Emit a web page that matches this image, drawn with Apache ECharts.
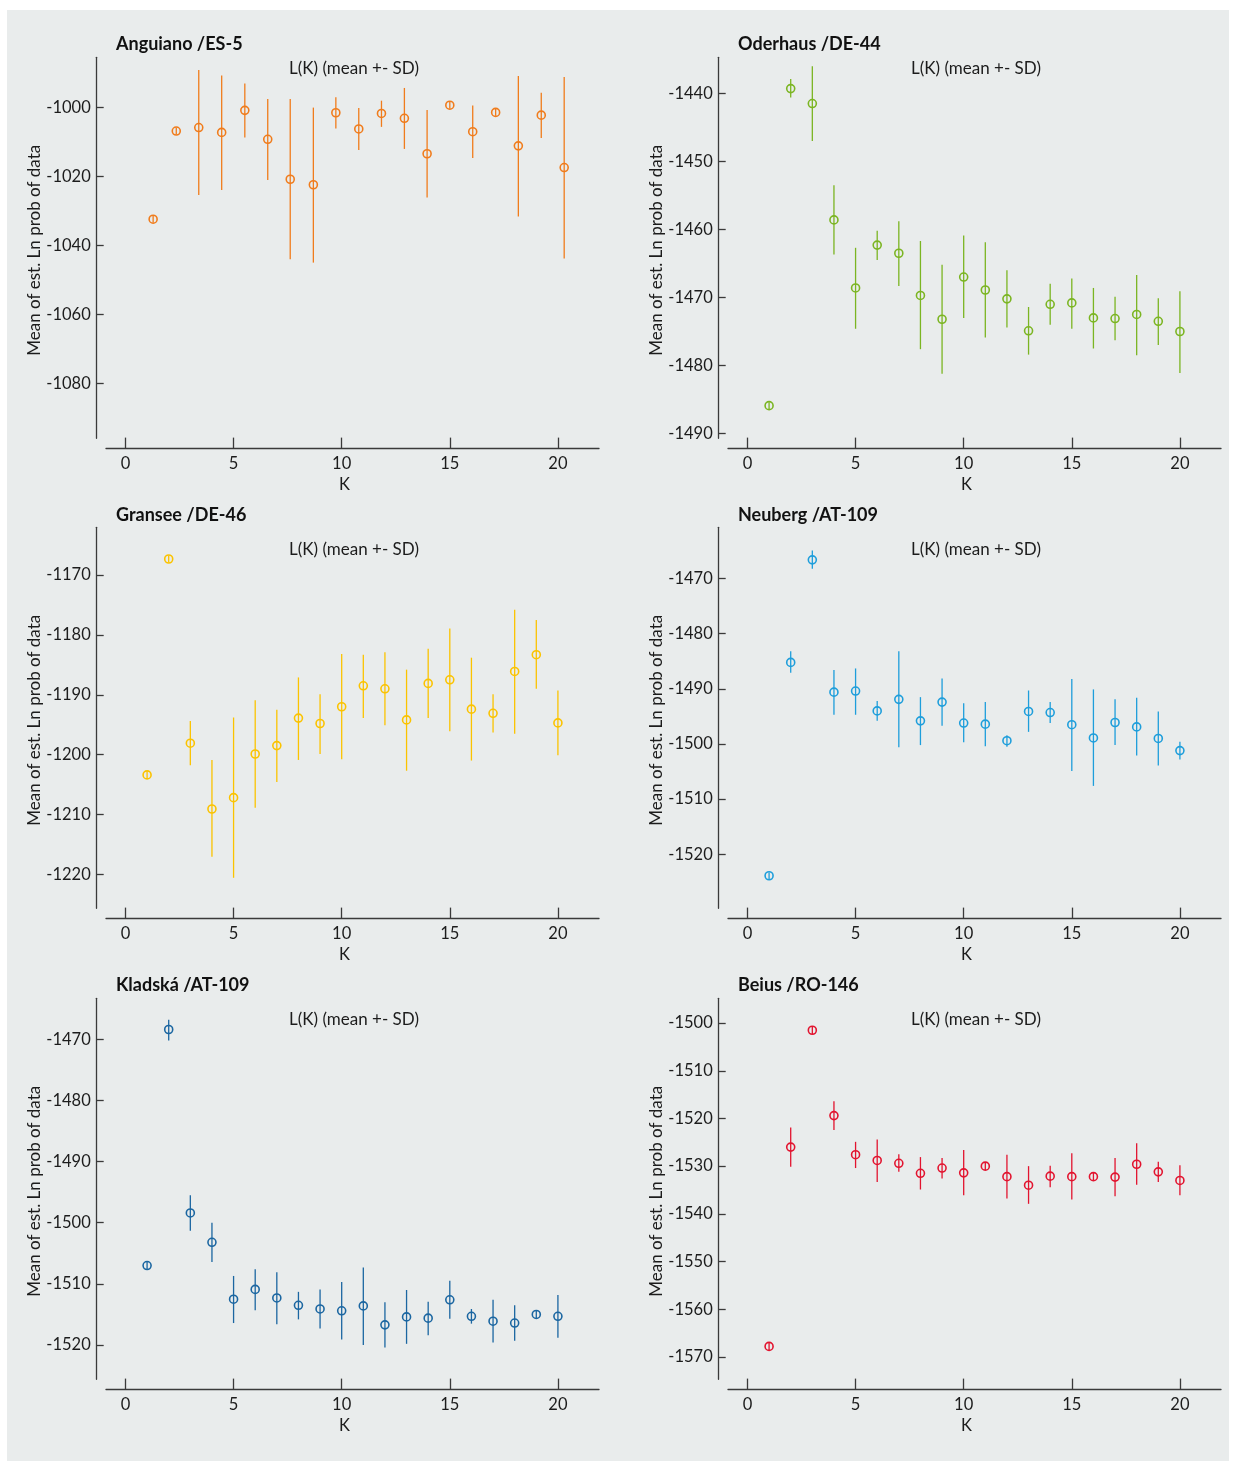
<!DOCTYPE html>
<html>
<head>
<meta charset="utf-8">
<title>L(K) (mean +- SD)</title>
<script src="https://cdn.jsdelivr.net/npm/echarts@6/dist/echarts.min.js"></script>
<style>
  html, body { margin: 0; padding: 0; background: #fff; }
  #chart { width: 1236px; height: 1461px; }
</style>
</head>
<body>
<div id="chart"></div>
<script>
// K values (x) and tick labels
const kValues = [1, 2, 3, 4, 5, 6, 7, 8, 9, 10, 11, 12, 13, 14, 15, 16, 17, 18, 19, 20]
const kTicks = [0, 5, 10, 15, 20]

// Anguiano /ES-5 (points sit slightly right of the integer ticks in the source)
const anguianoK = [1.28, 2.35, 3.39, 4.45, 5.52, 6.58, 7.62, 8.69, 9.73, 10.79, 11.84, 12.9, 13.95, 15.0, 16.06, 17.12, 18.17, 19.23, 20.29]
const anguianoMean = [-1032.4, -1006.8, -1005.8, -1007.2, -1000.8, -1009.2, -1020.8, -1022.4, -1001.5, -1006.2, -1001.7, -1003.1, -1013.4, -999.3, -1007.0, -1001.4, -1011.1, -1002.2, -1017.4]
const anguianoHigh = [-1031.4, -1005.8, -989.1, -990.7, -993.0, -997.5, -997.5, -1000.0, -997.0, -1000.1, -998.0, -994.3, -1000.7, -998.3, -999.4, -1000.4, -990.8, -995.7, -991.1]
const anguianoLow = [-1033.4, -1007.8, -1025.4, -1023.9, -1008.7, -1021.0, -1044.0, -1045.0, -1006.1, -1012.3, -1005.6, -1012.0, -1026.1, -1000.3, -1014.6, -1002.4, -1031.6, -1008.8, -1043.8]
const anguianoTicks = [-1080, -1060, -1040, -1020, -1000]

// Oderhaus /DE-44
const oderhausMean = [-1485.9, -1439.3, -1441.5, -1458.6, -1468.6, -1462.3, -1463.5, -1469.7, -1473.2, -1467.0, -1468.9, -1470.2, -1474.9, -1471.0, -1470.8, -1473.0, -1473.1, -1472.5, -1473.5, -1475.0]
const oderhausHigh = [-1485.4, -1437.9, -1436.0, -1453.5, -1462.7, -1460.2, -1458.8, -1461.7, -1465.2, -1460.9, -1461.9, -1466.0, -1471.4, -1468.0, -1467.2, -1468.6, -1469.9, -1466.7, -1470.1, -1469.1]
const oderhausLow = [-1486.4, -1440.6, -1447.0, -1463.7, -1474.6, -1464.5, -1468.3, -1477.6, -1481.2, -1473.0, -1475.9, -1474.4, -1478.4, -1474.0, -1474.6, -1477.5, -1476.3, -1478.5, -1477.0, -1481.1]
const oderhausTicks = [-1490, -1480, -1470, -1460, -1450, -1440]

// Gransee /DE-46
const granseeMean = [-1203.4, -1167.3, -1198.1, -1209.1, -1207.2, -1199.9, -1198.5, -1193.9, -1194.8, -1192.0, -1188.5, -1189.0, -1194.2, -1188.1, -1187.5, -1192.4, -1193.1, -1186.1, -1183.3, -1194.7]
const granseeHigh = [-1202.8, -1166.7, -1194.4, -1200.9, -1193.8, -1190.9, -1192.5, -1187.1, -1189.9, -1183.2, -1183.3, -1182.9, -1185.8, -1182.3, -1178.9, -1183.8, -1189.9, -1175.8, -1177.5, -1189.3]
const granseeLow = [-1204.0, -1167.9, -1201.8, -1217.1, -1220.6, -1208.9, -1204.6, -1200.9, -1199.9, -1200.8, -1193.9, -1195.1, -1202.7, -1193.9, -1196.1, -1201.0, -1196.3, -1196.5, -1189.0, -1200.1]
const granseeTicks = [-1220, -1210, -1200, -1190, -1180, -1170]

// Neuberg /AT-109
const neubergMean = [-1523.9, -1485.2, -1466.6, -1490.6, -1490.4, -1494.0, -1491.9, -1495.8, -1492.4, -1496.2, -1496.4, -1499.4, -1494.1, -1494.3, -1496.5, -1498.9, -1496.1, -1496.9, -1499.0, -1501.2]
const neubergHigh = [-1523.3, -1483.2, -1464.9, -1486.6, -1486.3, -1492.2, -1483.2, -1491.5, -1488.1, -1492.6, -1492.4, -1498.4, -1490.3, -1492.4, -1488.2, -1490.1, -1491.9, -1491.6, -1494.1, -1499.6]
const neubergLow = [-1524.5, -1487.1, -1468.2, -1494.7, -1494.7, -1495.8, -1500.6, -1500.2, -1496.7, -1499.7, -1500.4, -1500.5, -1497.8, -1496.2, -1504.9, -1507.6, -1500.2, -1502.1, -1503.9, -1502.8]
const neubergTicks = [-1520, -1510, -1500, -1490, -1480, -1470]

// Kladská /AT-109
const kladskaMean = [-1507.0, -1468.4, -1498.4, -1503.2, -1512.5, -1510.9, -1512.3, -1513.5, -1514.1, -1514.4, -1513.6, -1516.7, -1515.4, -1515.6, -1512.6, -1515.3, -1516.1, -1516.4, -1515.0, -1515.3]
const kladskaHigh = [-1506.4, -1466.8, -1495.5, -1500.0, -1508.7, -1507.6, -1508.1, -1511.3, -1510.9, -1509.7, -1507.3, -1513.0, -1511.0, -1512.9, -1509.5, -1514.1, -1512.6, -1513.5, -1514.4, -1511.8]
const kladskaLow = [-1507.6, -1470.2, -1501.3, -1506.4, -1516.4, -1514.3, -1516.6, -1515.8, -1517.3, -1519.1, -1520.0, -1520.4, -1519.8, -1518.4, -1515.7, -1516.5, -1519.6, -1519.3, -1515.6, -1518.8]
const kladskaTicks = [-1520, -1510, -1500, -1490, -1480, -1470]

// Beius /RO-146
const beiusMean = [-1567.8, -1526.0, -1501.5, -1519.4, -1527.6, -1528.8, -1529.4, -1531.5, -1530.4, -1531.4, -1530.0, -1532.2, -1534.0, -1532.1, -1532.2, -1532.2, -1532.3, -1529.6, -1531.2, -1533.0]
const beiusHigh = [-1567.0, -1521.9, -1500.7, -1516.4, -1524.9, -1524.4, -1527.5, -1528.1, -1528.3, -1526.6, -1529.2, -1527.6, -1530.0, -1529.9, -1527.3, -1531.4, -1528.3, -1525.2, -1529.1, -1529.8]
const beiusLow = [-1568.6, -1530.1, -1502.3, -1522.4, -1530.4, -1533.3, -1531.2, -1534.9, -1532.6, -1536.1, -1530.8, -1536.8, -1537.9, -1534.4, -1537.0, -1533.0, -1536.3, -1533.9, -1533.3, -1536.1]
const beiusTicks = [-1570, -1560, -1550, -1540, -1530, -1520, -1510, -1500]

const panels = [
  { title: 'Anguiano /ES-5', color: '#f07c1c', k: anguianoK, mean: anguianoMean, low: anguianoLow, high: anguianoHigh, ticks: anguianoTicks, yMin: -1096, yMax: -985.4 },
  { title: 'Oderhaus /DE-44', color: '#7bb522', k: kValues, mean: oderhausMean, low: oderhausLow, high: oderhausHigh, ticks: oderhausTicks, yMin: -1490.7, yMax: -1434.7 },
  { title: 'Gransee /DE-46', color: '#fbc300', k: kValues, mean: granseeMean, low: granseeLow, high: granseeHigh, ticks: granseeTicks, yMin: -1225.7, yMax: -1162 },
  { title: 'Neuberg /AT-109', color: '#1e9edb', k: kValues, mean: neubergMean, low: neubergLow, high: neubergHigh, ticks: neubergTicks, yMin: -1529.8, yMax: -1460.7 },
  { title: 'Kladská /AT-109', color: '#1b66a1', k: kValues, mean: kladskaMean, low: kladskaLow, high: kladskaHigh, ticks: kladskaTicks, yMin: -1525.6, yMax: -1463.3 },
  { title: 'Beius /RO-146', color: '#e2142f', k: kValues, mean: beiusMean, low: beiusLow, high: beiusHigh, ticks: beiusTicks, yMin: -1574.7, yMax: -1494.8 }
]

const FONT = 'Lato, "Noto Sans", sans-serif'
const INK = '#1c1c1c'
const AXIS = '#3a3a3a'

// layout of the 3x2 panel grid
const colLeft = [106, 728]
const rowTop = [57.3, 527.3, 998.3]
const titleY = [44.5, 515, 985]
const subtitleY = [68.3, 549.3, 1019.3]
const gridW = 493
const gridH = 381

const chart = echarts.init(document.getElementById('chart'))

const grids = []
const xAxes = []
const yAxes = []
const series = []
const graphics = [
  { type: 'rect', z: -10, silent: true, shape: { x: 7, y: 10, width: 1222, height: 1451 }, style: { fill: '#e9ecec' } }
]

// plain numbers, no thousands separator
const plain = (v) => String(v)

panels.forEach((p, i) => {
  const col = i % 2
  const row = Math.floor(i / 2)
  const left = colLeft[col]
  const top = rowTop[row]

  grids.push({ left: left, top: top, width: gridW, height: gridH, outerBoundsMode: 'none' })

  xAxes.push({
    gridIndex: i,
    type: 'value',
    min: -0.9,
    max: 21.9,
    offset: 10.3,
    axisLine: { show: true, onZero: false, lineStyle: { color: AXIS, width: 1.3 } },
    axisTick: { show: true, inside: true, length: 11, customValues: kTicks, lineStyle: { color: AXIS, width: 1.3 } },
    axisLabel: { customValues: kTicks, formatter: plain, margin: 7, fontSize: 16.5, color: INK, fontFamily: FONT },
    splitLine: { show: false },
    name: 'K',
    nameLocation: 'middle',
    nameGap: 28,
    nameMoveOverlap: false,
    nameTextStyle: { fontSize: 16.5, color: INK, fontFamily: FONT, padding: [0, 16, 0, 0] }
  })

  yAxes.push({
    gridIndex: i,
    type: 'value',
    min: p.yMin,
    max: p.yMax,
    offset: 9.3,
    axisLine: { show: true, onZero: false, lineStyle: { color: AXIS, width: 1.3 } },
    axisTick: { show: true, inside: true, length: 7, customValues: p.ticks, lineStyle: { color: AXIS, width: 1.3 } },
    axisLabel: { customValues: p.ticks, formatter: plain, margin: 6, fontSize: 16.5, color: INK, fontFamily: FONT },
    splitLine: { show: false },
    name: 'Mean of est. Ln prob of data',
    nameLocation: 'middle',
    nameRotate: 90,
    nameGap: 54,
    nameMoveOverlap: false,
    nameTextStyle: { fontSize: 17, color: INK, fontFamily: FONT, padding: [0, 5, 0, 0] }
  })

  // error bars: mean +- SD
  series.push({
    type: 'custom',
    xAxisIndex: i,
    yAxisIndex: i,
    silent: true,
    itemStyle: { color: p.color },
    encode: { x: 0, y: [1, 2] },
    data: p.k.map((k, j) => [k, p.low[j], p.high[j]]),
    renderItem: function (params, api) {
      const hi = api.coord([api.value(0), api.value(2)])
      const lo = api.coord([api.value(0), api.value(1)])
      return {
        type: 'line',
        shape: { x1: hi[0], y1: hi[1], x2: lo[0], y2: lo[1] },
        style: { stroke: api.visual('color'), lineWidth: 1.3 }
      }
    }
  })

  // means as open circles
  series.push({
    type: 'scatter',
    xAxisIndex: i,
    yAxisIndex: i,
    silent: true,
    symbol: 'circle',
    symbolSize: 8,
    itemStyle: { color: 'rgba(0,0,0,0)', borderColor: p.color, borderWidth: 1.6, opacity: 1 },
    data: p.k.map((k, j) => [k, p.mean[j]])
  })

  graphics.push({
    type: 'text',
    x: left + 10,
    y: titleY[row],
    silent: true,
    style: { text: p.title, font: 'bold 18px ' + FONT, fill: '#111', textAlign: 'left', textVerticalAlign: 'middle' }
  })
  graphics.push({
    type: 'text',
    x: left + 248,
    y: subtitleY[row],
    silent: true,
    style: { text: 'L(K) (mean +- SD)', font: '17px ' + FONT, fill: INK, textAlign: 'center', textVerticalAlign: 'middle' }
  })
})

chart.setOption({
  backgroundColor: '#ffffff',
  animation: false,
  grid: grids,
  xAxis: xAxes,
  yAxis: yAxes,
  series: series,
  graphic: graphics
})
</script>
</body>
</html>
